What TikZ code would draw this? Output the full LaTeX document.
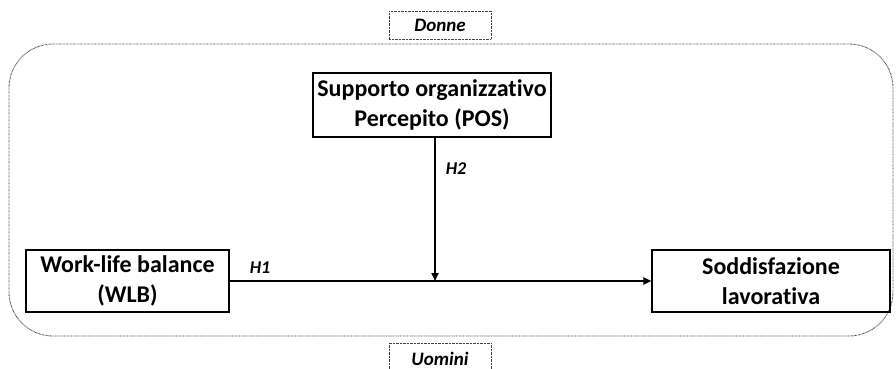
\documentclass[tikz,border=0pt]{standalone}
\usepackage{fontspec}
\setmainfont{Carlito}[Ligatures=NoCommon]
\usetikzlibrary{arrows.meta}
\begin{document}
\begin{tikzpicture}[x=1pt,y=-1pt,
  box/.style={draw=black,line width=1.1pt,align=center,inner sep=0pt,
    font=\fontsize{24}{29.5}\selectfont\bfseries},
  grp/.style={draw=black!75,line width=0.9pt,dash pattern=on 0.7pt off 0.7pt},
  tag/.style={grp,inner sep=0pt,minimum width=102pt,
    font=\fontsize{19}{22}\selectfont\bfseries\itshape},
  hyp/.style={font=\fontsize{18}{21}\selectfont\bfseries\itshape},
  arr/.style={line width=1.8pt,-{Triangle[length=8pt,width=7pt]}}]
\useasboundingbox (0,0) rectangle (896,369);
\draw[grp,rounded corners=44pt] (9,44) rectangle (893,336);
\node[tag,minimum height=28pt] (donne) at (440,25) {Donne};
\node[tag,minimum height=30pt,anchor=north] (uomini) at (440,343) {Uomini};
\node[box,minimum width=238pt,minimum height=64pt] (pos) at (432,105)
  {Supporto organizzativo\\Percepito (POS)};
\node[box,minimum width=203pt,minimum height=62pt] (wlb) at (127.5,281)
  {Work-life balance\\(WLB)};
\node[box,minimum width=238pt,minimum height=62pt] (sod) at (771,281)
  {Soddisfazione\\lavorativa};
\coordinate (j) at (435,281);
\draw[arr] (wlb.east) -- (sod.west);
\draw[arr] (pos.south -| j) -- (j);
\node[hyp] (h1) at (260,268) {H1};
\node[hyp] (h2) at (456,169) {H2};
\end{tikzpicture}
\end{document}
